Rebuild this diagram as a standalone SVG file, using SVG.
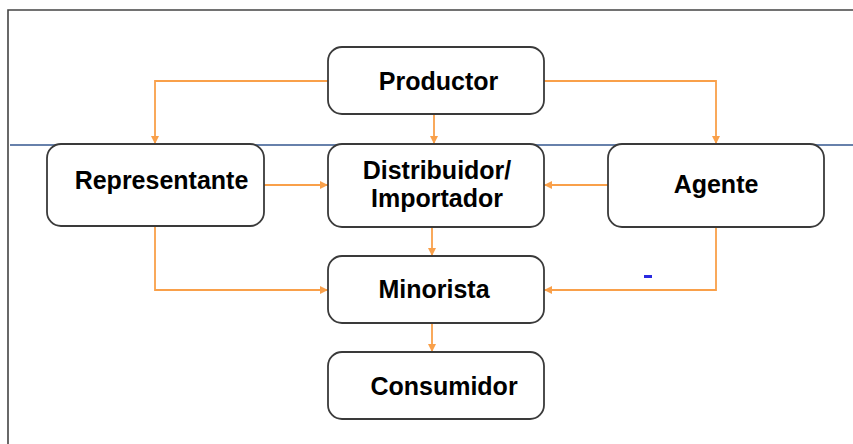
<svg xmlns="http://www.w3.org/2000/svg" width="853" height="444" viewBox="0 0 853 444">
<style>
.box{fill:#fff;stroke:#3a3a3a;stroke-width:1.8}
.lbl{font-family:"Liberation Sans",Arial,sans-serif;font-weight:bold;font-size:25px;fill:#000;text-anchor:middle}
.con{fill:none;stroke:#f9a04a;stroke-width:1.8}
</style>
<defs>
<marker id="ah" viewBox="0 0 10 10" refX="10" refY="5" markerWidth="8" markerHeight="8" markerUnits="userSpaceOnUse" orient="auto">
<path d="M0,0 L10,5 L0,10 z" fill="#f9a04a"/>
</marker>
</defs>
<rect width="853" height="444" fill="#fff"/>
<g id="frame">
<path d="M8,444 V10 H853" fill="none" stroke="#444" stroke-width="1.6"/>
<line x1="10" y1="145" x2="853" y2="145" stroke="#34578f" stroke-width="1.6"/>
<rect x="644" y="275" width="8" height="3" fill="#2a2ae0"/>
</g>
<g id="connectors">
<path class="con" d="M328,81 H155 V144" marker-end="url(#ah)"/>
<path class="con" d="M544,81 H716 V144" marker-end="url(#ah)"/>
<path class="con" d="M434,114 V144" marker-end="url(#ah)"/>
<path class="con" d="M264,185 H328" marker-end="url(#ah)"/>
<path class="con" d="M608,185 H544" marker-end="url(#ah)"/>
<path class="con" d="M432,227 V256" marker-end="url(#ah)"/>
<path class="con" d="M155,226 V290 H328" marker-end="url(#ah)"/>
<path class="con" d="M716,227 V290 H544" marker-end="url(#ah)"/>
<path class="con" d="M432,323 V352" marker-end="url(#ah)"/>
</g>
<g id="productor">
<rect class="box" x="328" y="47" width="216" height="67" rx="14"/>
<text class="lbl" x="438.5" y="90">Productor</text>
</g>
<g id="representante">
<rect class="box" x="47" y="144" width="217" height="82" rx="14"/>
<text class="lbl" x="161.5" y="189">Representante</text>
</g>
<g id="distribuidor">
<rect class="box" x="328" y="144" width="216" height="83" rx="14"/>
<text class="lbl" x="437" y="179">Distribuidor/</text>
<text class="lbl" x="437" y="207">Importador</text>
</g>
<g id="agente">
<rect class="box" x="608" y="144" width="216" height="83" rx="14"/>
<text class="lbl" x="716" y="193">Agente</text>
</g>
<g id="minorista">
<rect class="box" x="328" y="256" width="216" height="67" rx="14"/>
<text class="lbl" x="434" y="298">Minorista</text>
</g>
<g id="consumidor">
<rect class="box" x="328" y="352" width="216" height="67" rx="14"/>
<text class="lbl" x="444" y="395">Consumidor</text>
</g>
</svg>
